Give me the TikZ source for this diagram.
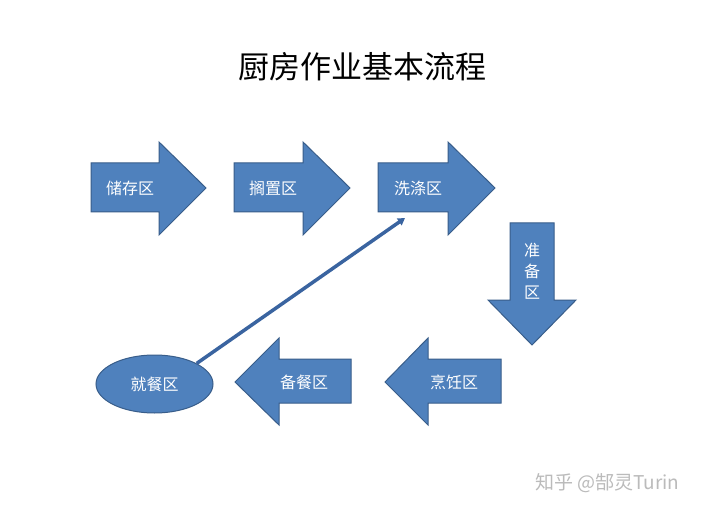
\documentclass[tikz,border=0pt]{standalone}
\usepackage{fontspec}
\newfontfamily\cjk{Noto Sans CJK SC}
\usetikzlibrary{arrows.meta,shapes.geometric}
\definecolor{boxfill}{HTML}{4F81BD}
\definecolor{boxline}{HTML}{385D8A}
\definecolor{linkcol}{HTML}{3A64A0}
\definecolor{markgray}{HTML}{BBBBBB}
\tikzset{
  blockarrow/.style={fill=boxfill,draw=boxline,line width=1pt,line join=miter},
  arrowlabel/.style={text=white,font=\cjk\fontsize{16}{18}\selectfont,inner sep=0pt},
  zone/.style={ellipse,fill=boxfill,draw=boxline,line width=1pt,minimum width=117pt,minimum height=58pt,inner sep=0pt,text=white,font=\cjk\fontsize{16}{18}\selectfont},
  link/.style={draw=linkcol,line width=3.5pt,-{Triangle[length=7pt,width=8pt]}},
}
\begin{document}
\begin{tikzpicture}[x=1pt,y=-1pt]
\useasboundingbox (0,0) rectangle (720,513);
\fill[white] (0,0) rectangle (720,513);
% title
\node[font=\cjk\fontsize{31}{34}\selectfont,inner sep=0pt] (title) at (362,67) {厨房作业基本流程};
% right arrows (top row)
\path[blockarrow] (91,163) -- (159,163) -- (159,142) -- (206,188) -- (159,235) -- (159,212) -- (91,212) -- cycle;
\node[arrowlabel] (a1) at (130,188) {储存区};
\path[blockarrow] (234,163) -- (303,163) -- (303,142) -- (350,188) -- (303,235) -- (303,212) -- (234,212) -- cycle;
\node[arrowlabel] (a2) at (273,188) {搁置区};
\path[blockarrow] (378,163) -- (448,163) -- (448,142) -- (495,188) -- (448,235) -- (448,212) -- (378,212) -- cycle;
\node[arrowlabel] (a3) at (418,188) {洗涤区};
% down arrow
\path[blockarrow] (510,223) -- (554,223) -- (554,300) -- (576,300) -- (532,345) -- (488,300) -- (510,300) -- cycle;
\node[arrowlabel,align=center,font=\cjk\fontsize{16}{21}\selectfont] (a4) at (532,271) {准\\备\\区};
% left arrows (bottom row)
\path[blockarrow] (501,359) -- (428,359) -- (428,338) -- (385,382) -- (428,425) -- (428,403) -- (501,403) -- cycle;
\node[arrowlabel] (a5) at (454,382) {烹饪区};
\path[blockarrow] (351,359) -- (279,359) -- (279,338) -- (235,382) -- (279,425) -- (279,403) -- (351,403) -- cycle;
\node[arrowlabel] (a6) at (304,382) {备餐区};
% ellipse
\node[zone] (eat) at (154.5,384) {就餐区};
% connector
\coordinate (linkend) at (405,218);
\draw[link] (eat.26) -- (linkend);
% watermark
\node[text=markgray,font=\cjk\fontsize{19}{21}\selectfont,inner sep=0pt,anchor=west] (mark) at (535,483) {知乎 @郜灵Turin};
\end{tikzpicture}
\end{document}
